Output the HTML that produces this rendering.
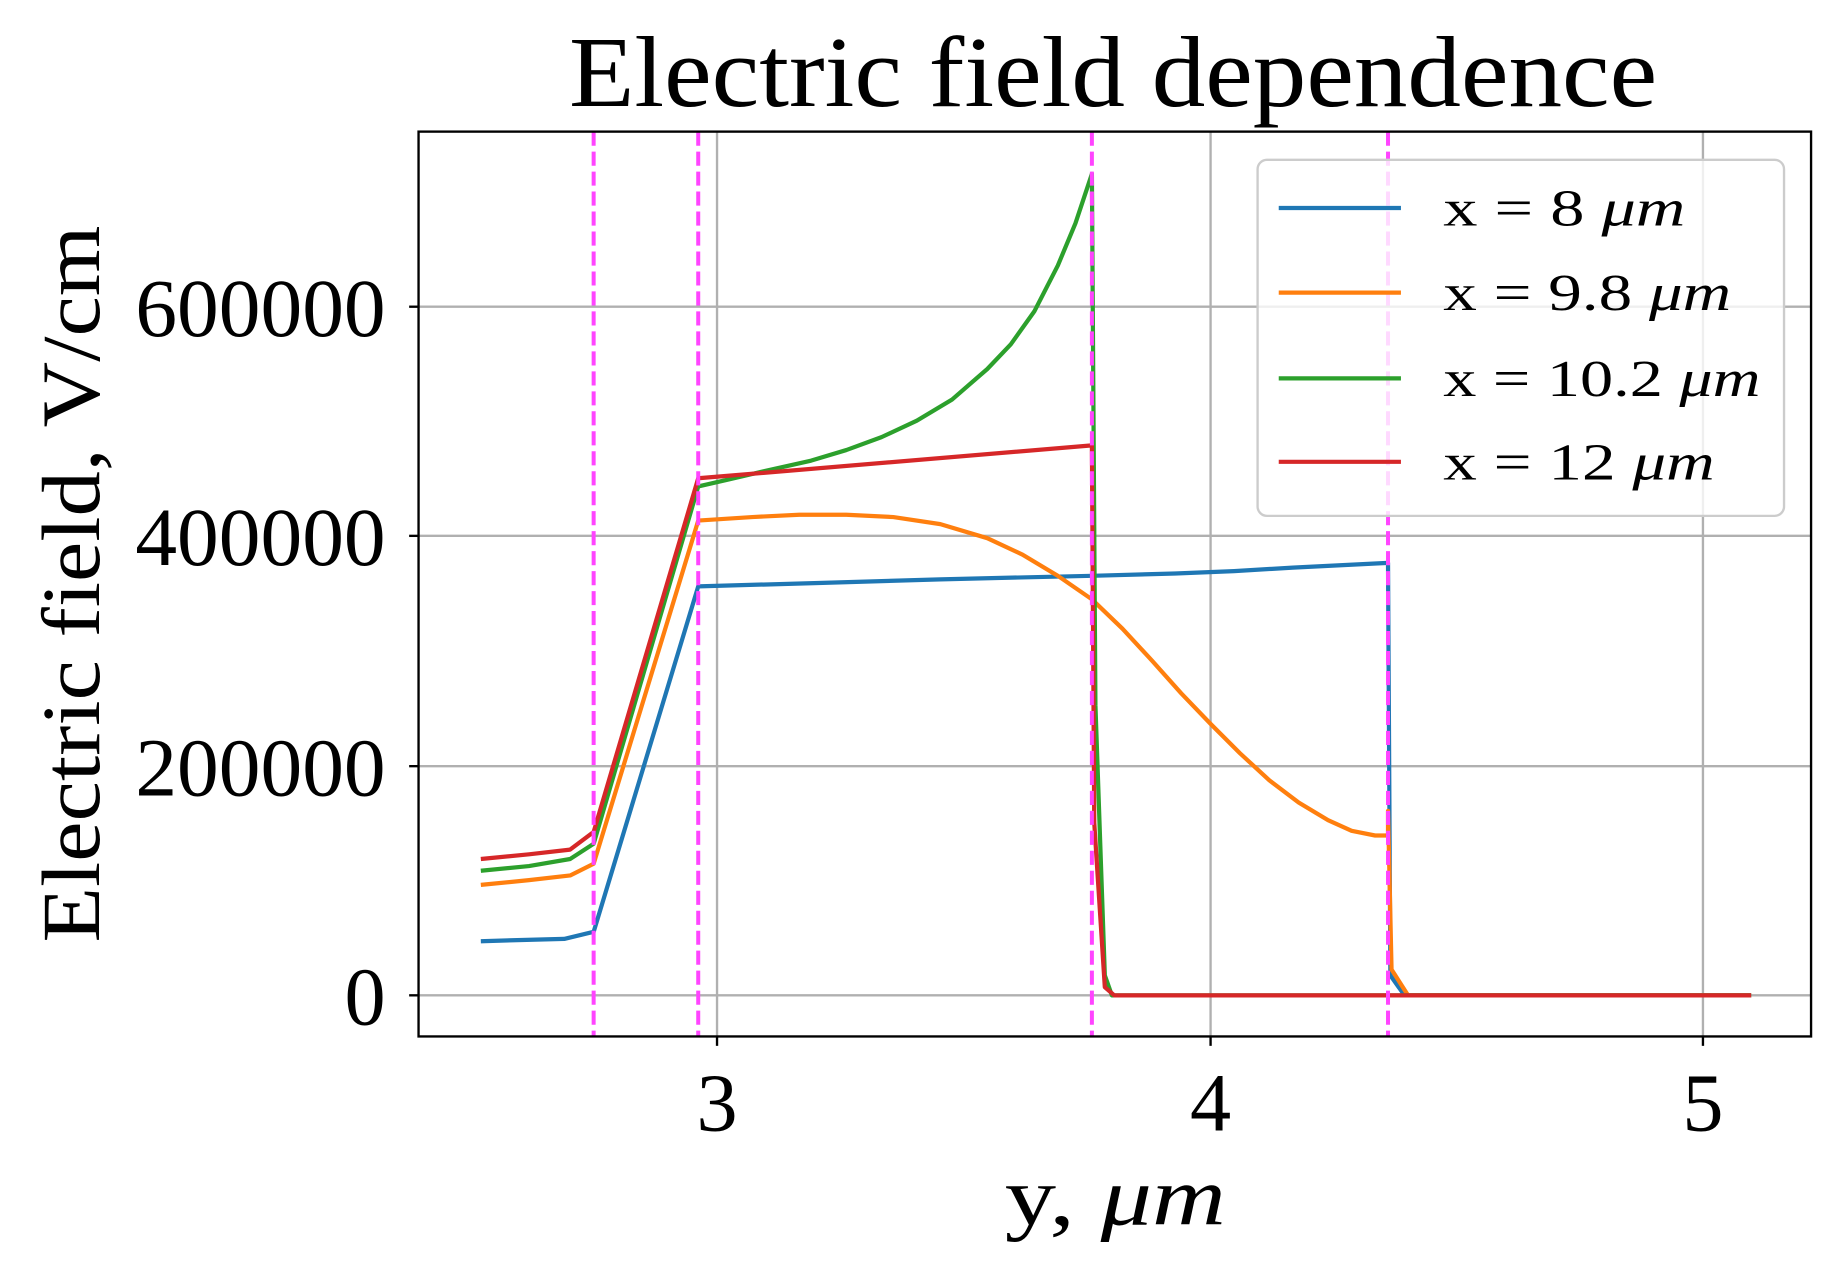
<!DOCTYPE html>
<html><head><meta charset="utf-8"><style>html,body{margin:0;padding:0;background:#fff}</style></head>
<body>
<svg width="1843" height="1275" viewBox="0 0 1568 1085" xmlns="http://www.w3.org/2000/svg" font-family="'Liberation Serif', serif">
<rect width="1568" height="1085" fill="#fff"/>
<g stroke="#b0b0b0" stroke-width="2">
<line x1="610" y1="112" x2="610" y2="882"/><line x1="1030" y1="112" x2="1030" y2="882"/><line x1="1449" y1="112" x2="1449" y2="882"/>
<line x1="356" y1="847" x2="1541" y2="847"/><line x1="356" y1="652" x2="1541" y2="652"/><line x1="356" y1="456" x2="1541" y2="456"/><line x1="356" y1="261" x2="1541" y2="261"/>
</g>
<g fill="none" stroke-width="3.6" stroke-linejoin="round">
<polyline stroke="#1f77b4" points="409,801 440,800 480,799 505,793 594,499 700,496 800,493 929,490 1000,488 1050,486 1100,483 1181,479 1183,830 1195,847 1490,847"/>
<polyline stroke="#ff7f0e" points="409,753 450,749 485,745 505,735 594,443 640,440 680,438 720,438 760,440 800,446 840,458 870,472 900,490 929,510 955,535 980,562 1005,590 1030,616 1055,641 1080,664 1105,683 1130,698 1150,707 1170,711 1181,711 1181,690 1184,825 1198,847 1490,847"/>
<polyline stroke="#2ca02c" points="409,741 450,737 485,731 505,718 594,414 620,408 650,401 690,392 720,383 750,372 780,358 810,340 840,314 860,293 880,265 900,226 915,190 929,148 932,600 940,830 946,847 1490,847"/>
<polyline stroke="#d62728" points="409,731 450,727 485,723 505,708 594,407 929,379 931,700 940,840 948,847 1490,847"/>
</g>
<g stroke="#ff44ff" stroke-width="3.4" stroke-dasharray="12,5" fill="none">
<line x1="505" y1="112" x2="505" y2="882"/><line x1="594" y1="112" x2="594" y2="882"/><line x1="929" y1="112" x2="929" y2="882"/><line x1="1181" y1="112" x2="1181" y2="882"/>
</g>
<rect x="356" y="112" width="1185" height="770" fill="none" stroke="#000" stroke-width="2"/>
<g stroke="#000" stroke-width="2">
<line x1="610" y1="882" x2="610" y2="890"/><line x1="1030" y1="882" x2="1030" y2="890"/><line x1="1449" y1="882" x2="1449" y2="890"/>
<line x1="348" y1="847" x2="356" y2="847"/><line x1="348" y1="652" x2="356" y2="652"/><line x1="348" y1="456" x2="356" y2="456"/><line x1="348" y1="261" x2="356" y2="261"/>
</g>
<g font-size="70" fill="#000">
<text x="610" y="962" text-anchor="middle">3</text><text x="1030" y="962" text-anchor="middle">4</text><text x="1449" y="962" text-anchor="middle">5</text>
<text x="328" y="872" text-anchor="end">0</text>
<text x="115" y="677" textLength="213" lengthAdjust="spacingAndGlyphs">200000</text>
<text x="115" y="481" textLength="213" lengthAdjust="spacingAndGlyphs">400000</text>
<text x="115" y="286" textLength="213" lengthAdjust="spacingAndGlyphs">600000</text>
</g>
<text x="484" y="90" font-size="86" textLength="926" lengthAdjust="spacingAndGlyphs">Electric field dependence</text>
<text x="855" y="1042" font-size="70" textLength="188" lengthAdjust="spacingAndGlyphs">y, <tspan font-style="italic">μm</tspan></text>
<text transform="translate(84,497) rotate(-90)" text-anchor="middle" font-size="70" textLength="610" lengthAdjust="spacingAndGlyphs">Electric field, V/cm</text>
<rect x="1070" y="136" width="448" height="303" rx="8" fill="#fff" fill-opacity="0.8" stroke="#cccccc" stroke-width="2"/>
<g stroke-width="3.6">
<line x1="1088" y1="177" x2="1192" y2="177" stroke="#1f77b4"/>
<line x1="1088" y1="249" x2="1192" y2="249" stroke="#ff7f0e"/>
<line x1="1088" y1="322" x2="1192" y2="322" stroke="#2ca02c"/>
<line x1="1088" y1="393" x2="1192" y2="393" stroke="#d62728"/>
</g>
<g font-size="44" fill="#000">
<text x="1228" y="192" textLength="206" lengthAdjust="spacingAndGlyphs">x = 8 <tspan font-style="italic">μm</tspan></text>
<text x="1228" y="264" textLength="245" lengthAdjust="spacingAndGlyphs">x = 9.8 <tspan font-style="italic">μm</tspan></text>
<text x="1228" y="337" textLength="270" lengthAdjust="spacingAndGlyphs">x = 10.2 <tspan font-style="italic">μm</tspan></text>
<text x="1228" y="408" textLength="231" lengthAdjust="spacingAndGlyphs">x = 12 <tspan font-style="italic">μm</tspan></text>
</g>
</svg>
</body></html>
